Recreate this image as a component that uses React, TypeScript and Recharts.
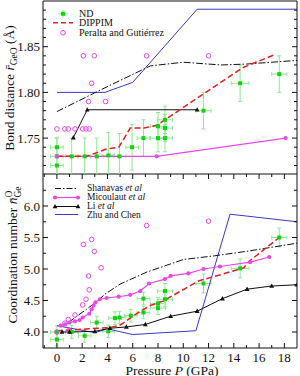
import React from "react";
import {
  ComposedChart,
  Line,
  Scatter,
  XAxis,
  YAxis,
  ErrorBar,
  ReferenceArea,
  Legend,
} from "recharts";

const FONT = "Liberation Serif, Times New Roman, serif";
const INK = "#111";
const GREEN = "#12d012";
const GREEN_ERR = "#8fea8f";
const RED = "#e02020";
const MAGENTA = "#e848e8";
const BLUE = "#3838c8";

// axis ranges / ticks
const P_MIN = -1.1;
const P_MAX = 19;
const R_MIN = 1.7107;
const R_MAX = 1.9;
const N_MIN = 3.746;
const N_MAX = 6.508;

const P_TICKS = [-1, 0, 1, 2, 3, 4, 5, 6, 7, 8, 9, 10, 11, 12, 13, 14, 15, 16, 17, 18];
const P_LABELS = [0, 2, 4, 6, 8, 10, 12, 14, 16, 18];
const R_TICKS = [1.72, 1.73, 1.74, 1.75, 1.76, 1.77, 1.78, 1.79, 1.8, 1.81, 1.82, 1.83, 1.84, 1.85, 1.86, 1.87, 1.88, 1.89];
const R_LABELS = [1.75, 1.8, 1.85];
const N_TICKS = [4, 4.25, 4.5, 4.75, 5, 5.25, 5.5, 5.75, 6, 6.25];
const N_LABELS = [4, 4.5, 5, 5.5, 6];

// ---- top panel: bond distance ----
const ndTopP = [0, 0, 0, 1.17, 2.2, 3.15, 4.07, 4.95, 5.95, 6.85, 8.0, 8.0, 8.55, 8.55, 8.55, 11.6, 14.5, 17.6];
const ndTopR = [1.74, 1.73, 1.72, 1.73, 1.73, 1.73, 1.731, 1.73, 1.74, 1.75, 1.763, 1.75, 1.77, 1.761, 1.75, 1.78, 1.81, 1.82];
const ndTopEP = [0.5, 0.5, 0.5, 0.5, 0.5, 0.5, 0.5, 0.5, 0.5, 0.5, 0.6, 0.6, 0.6, 0.6, 0.6, 0.6, 0.7, 0.6];
const ndTopER = [0.01, 0.02, 0.01, 0.02, 0.02, 0.02, 0.025, 0.025, 0.025, 0.02, 0.015, 0.015, 0.015, 0.015, 0.015, 0.02, 0.02, 0.02];

const peraltaTopP = [0, 0.63, 0.9, 1.43, 2.04, 2.3, 2.56, 2.5, 3.85, 2.75, 2.09, 2.96, 7.1, 12.0];
const peraltaTopR = [1.76, 1.76, 1.76, 1.76, 1.76, 1.76, 1.76, 1.79, 1.79, 1.81, 1.84, 1.84, 1.84, 1.84];

const dippimTopP = [0, 2.3, 3.15, 3.9, 4.9, 5.8, 6.9, 7.9, 14.7, 17.2];
const dippimTopR = [1.73, 1.73, 1.734, 1.738, 1.74, 1.761, 1.761, 1.764, 1.827, 1.841];

const shanavasTopP = [0, 3.5, 7.4, 10, 13, 15, 19];
const shanavasTopR = [1.779, 1.803, 1.829, 1.833, 1.83, 1.831, 1.835];

const micoulautTopP = [0, 7.9, 18.1];
const micoulautTopR = [1.73, 1.73, 1.75];

const liTopP = [1.3, 2.4, 11.1];
const liTopR = [1.7505, 1.781, 1.781];

const zhuTopP = [0, 3.8, 6, 11.1, 19];
const zhuTopR = [1.8, 1.8, 1.811, 1.891, 1.891];

// ---- bottom panel: coordination number ----
const ndBotP = [0, 0, 1.17, 2.2, 3.15, 4.07, 4.6, 4.95, 5.85, 6.85, 6.85, 8.0, 8.0, 8.55, 8.55, 11.6, 14.5, 17.6];
const ndBotN = [4.0, 3.88, 4.0, 3.94, 4.15, 4.01, 4.22, 4.23, 4.26, 4.31, 4.53, 4.38, 4.45, 4.52, 4.65, 4.77, 5.01, 5.5];
const ndBotEP = [0.5, 0.5, 0.5, 0.5, 0.5, 0.5, 0.5, 0.5, 0.5, 0.5, 0.5, 0.6, 0.6, 0.6, 0.6, 0.6, 0.7, 0.6];
const ndBotEN = [0.1, 0.1, 0.1, 0.1, 0.1, 0.1, 0.1, 0.1, 0.1, 0.1, 0.1, 0.1, 0.1, 0.12, 0.12, 0.15, 0.15, 0.15];

const peraltaBotP = [0, 0.63, 0.9, 0.95, 1.43, 2.04, 2.3, 2.56, 2.5, 3.5, 2.09, 2.75, 2.96, 7.1, 12.0];
const peraltaBotN = [4.0, 4.14, 4.2, 4.02, 4.27, 4.43, 4.52, 4.67, 4.89, 5.02, 5.39, 5.47, 5.28, 5.69, 5.76];

const dippimBotP = [0, 2.5, 4.2, 5.0, 5.8, 6.6, 7.4, 8.4, 9.8, 11.2, 12.8, 14.8, 15.2, 17.6];
const dippimBotN = [4.02, 4.05, 4.07, 4.11, 4.22, 4.33, 4.42, 4.49, 4.65, 4.81, 4.9, 5.02, 5.12, 5.5];

const shanavasBotP = [0.9, 3.15, 3.8, 5, 7.1, 10, 12.5, 15, 19];
const shanavasBotN = [4.15, 4.48, 4.6, 4.76, 4.95, 5.15, 5.21, 5.28, 5.41];

const micoulautBotP = [0.3, 0.65, 1.0, 1.43, 1.8, 2.04, 2.56, 2.75, 2.9, 3.05, 3.4, 3.94, 4.9, 5.8, 6.6, 7.3, 8.55, 9.0, 10.4, 11.6, 12.9, 15.3, 16.8];
const micoulautBotN = [4.1, 4.12, 4.15, 4.17, 4.19, 4.23, 4.29, 4.36, 4.42, 4.47, 4.52, 4.54, 4.56, 4.59, 4.65, 4.77, 4.84, 4.89, 4.93, 5.0, 5.04, 5.11, 5.19];

const liBotP = [0.4, 1.0, 3.0, 4.2, 5.5, 7.0, 9.0, 11.1, 13.1, 15.05, 17.0, 19.0];
const liBotN = [4.0, 4.0, 4.01, 4.06, 4.08, 4.12, 4.25, 4.33, 4.53, 4.68, 4.73, 4.75];

const zhuBotP = [0, 3.0, 4.0, 6.0, 11.0, 13.7, 19];
const zhuBotN = [4.1, 3.99, 4.05, 3.96, 4.02, 5.87, 5.75];

const TOP_LEGEND = ["ND", "DIPPIM", "Peralta and Gutiérrez"];
const BOTTOM_LEGEND = [
  ["Shanavas", "et al"],
  ["Micoulaut", "et al"],
  ["Li", "et al"],
  ["Zhu and Chen", ""],
];

const pts = (P: number[], V: number[], eP?: number[], eV?: number[]) =>
  P.map((p, i) => ({ p, v: V[i], ep: eP ? eP[i] : 0, ev: eV ? eV[i] : 0 }));

// layout
const W = 300;
const Y_AXIS_W = 43;
const PLOT_R = 297;
const TOP_H = 174;
const BOT_H = 202;

const has = (arr: number[], v: number) => arr.some((a) => Math.abs(a - v) < 1e-6);

const makeXTick = (plotTop: number, showLabels: boolean) => (props: any) => {
  const { x, y, payload } = props;
  const v = payload.value;
  const major = has(P_LABELS, v);
  const len = major ? 5 : 3;
  return (
    <g key={`xt-${v}`}>
      <line x1={x} x2={x} y1={y} y2={y - len} stroke={INK} />
      <line x1={x} x2={x} y1={plotTop} y2={plotTop + len} stroke={INK} />
      {showLabels && major && (
        <text x={x} y={y + 13.5} textAnchor="middle" fontSize={13} fontFamily={FONT} fill={INK}>
          {v}
        </text>
      )}
    </g>
  );
};

const makeYTick = (labels: number[], digits: number) => (props: any) => {
  const { x, y, payload } = props;
  const v = payload.value;
  const major = has(labels, v);
  const len = major ? 5 : 3;
  return (
    <g key={`yt-${v}`}>
      <line x1={x} x2={x + len} y1={y} y2={y} stroke={INK} />
      <line x1={PLOT_R} x2={PLOT_R - len} y1={y} y2={y} stroke={INK} />
      {major && (
        <text x={x - 3} y={y + 4.5} textAnchor="end" fontSize={13} fontFamily={FONT} fill={INK}>
          {v.toFixed(digits)}
        </text>
      )}
    </g>
  );
};

const Square = (props: any) => {
  const { cx, cy } = props;
  if (cx == null || cy == null) return <g />;
  return <rect x={cx - 2} y={cy - 2} width={4} height={4} fill={GREEN} />;
};

const OpenCircle = (props: any) => {
  const { cx, cy } = props;
  if (cx == null || cy == null) return <g />;
  return <circle cx={cx} cy={cy} r={2.3} fill="none" stroke={MAGENTA} strokeWidth={1} />;
};

const magentaDot = (props: any) => (
  <circle key={`md-${props.index}`} cx={props.cx} cy={props.cy} r={2.1} fill={MAGENTA} />
);

const triangleDot = (props: any) => {
  const { cx, cy, index } = props;
  return (
    <path
      key={`tr-${index}`}
      d={`M${cx},${cy - 2.6}L${cx + 2.4},${cy + 1.8}L${cx - 2.4},${cy + 1.8}Z`}
      fill={INK}
    />
  );
};

const TopYTitle = () => (
  <text transform="rotate(-90)" x={-88} y={13.5} textAnchor="middle" fontSize={13.5} fontFamily={FONT} fill={INK}>
    Bond distance <tspan fontStyle="italic">{"r\u0304"}</tspan>
    <tspan fontSize={9.5} dy={3}>GeO</tspan>
    <tspan dy={-3}> (Å)</tspan>
  </text>
);

const BottomYTitle = () => (
  <text transform="rotate(-90)" x={-81} y={17} textAnchor="middle" fontSize={13.5} fontFamily={FONT} fill={INK}>
    Coordination number <tspan fontStyle="italic">{"n\u0304"}</tspan>
    <tspan fontSize={9.5} dy={3.5}>Ge</tspan>
    <tspan fontSize={9.5} dx={-11} dy={-9}>O</tspan>
  </text>
);

const XTitle = () => (
  <text x={172} y={200.5} textAnchor="middle" fontSize={13.5} fontFamily={FONT} fill={INK}>
    Pressure <tspan fontStyle="italic">P</tspan> (GPa)
  </text>
);

const legendText: React.CSSProperties = {
  fontFamily: FONT,
  color: INK,
  whiteSpace: "nowrap",
};

const TopLegend = () => {
  const samples = [
    <g>
      <line x1={5} x2={15} y1={4.75} y2={4.75} stroke={GREEN_ERR} />
      <line x1={10} x2={10} y1={1} y2={8.5} stroke={GREEN_ERR} />
      <rect x={8} y={2.75} width={4} height={4} fill={GREEN} />
    </g>,
    <line x1={0} x2={20} y1={4.75} y2={4.75} stroke={RED} strokeWidth={1.5} strokeDasharray="5 3" />,
    <circle cx={10} cy={4.75} r={2.3} fill="none" stroke={MAGENTA} />,
  ];
  return (
    <div>
      {TOP_LEGEND.map((name, i) => (
        <div key={name} style={{ display: "flex", alignItems: "center", height: 9.5 }}>
          <svg width={20} height={9.5} style={{ overflow: "visible" }}>
            {samples[i]}
          </svg>
          <span style={{ ...legendText, fontSize: 10, marginLeft: 6 }}>{name}</span>
        </div>
      ))}
    </div>
  );
};

const BottomLegend = () => {
  const samples = [
    <line x1={0} x2={23} y1={4.5} y2={4.5} stroke={INK} strokeDasharray="6 2 1.5 2" />,
    <g>
      <line x1={0} x2={23} y1={4.5} y2={4.5} stroke={MAGENTA} strokeWidth={1.2} />
      <circle cx={0} cy={4.5} r={2.1} fill={MAGENTA} />
      <circle cx={23} cy={4.5} r={2.1} fill={MAGENTA} />
    </g>,
    <g>
      <line x1={0} x2={23} y1={4.5} y2={4.5} stroke={INK} />
      <path d="M0,1.9L2.4,6.3L-2.4,6.3Z" fill={INK} />
      <path d="M23,1.9L25.4,6.3L20.6,6.3Z" fill={INK} />
    </g>,
    <line x1={0} x2={23} y1={4.5} y2={4.5} stroke={BLUE} />,
  ];
  return (
    <div>
      {BOTTOM_LEGEND.map(([name, suffix], i) => (
        <div key={name} style={{ display: "flex", alignItems: "center", height: 8.9 }}>
          <svg width={23} height={9} style={{ overflow: "visible" }}>
            {samples[i]}
          </svg>
          <span style={{ ...legendText, fontSize: 9.5, marginLeft: 9 }}>
            {name}
            {suffix && <i> {suffix}</i>}
          </span>
        </div>
      ))}
    </div>
  );
};

export default function App() {
  const ndTop = pts(ndTopP, ndTopR, ndTopEP, ndTopER);
  const ndBot = pts(ndBotP, ndBotN, ndBotEP, ndBotEN);

  return (
    <div style={{ position: "absolute", left: 0, top: 0, width: W, height: 376, background: "#fff", fontFamily: FONT }}>
      <ComposedChart width={W} height={TOP_H} margin={{ top: 1, right: W - PLOT_R, bottom: 0, left: 0 }}>
        <XAxis
          type="number"
          dataKey="p"
          domain={[P_MIN, P_MAX]}
          allowDataOverflow
          ticks={P_TICKS}
          interval={0}
          height={0}
          tickSize={0}
          tickMargin={0}
          axisLine={false}
          tickLine={false}
          tick={makeXTick(1, false)}
        />
        <YAxis
          type="number"
          dataKey="v"
          domain={[R_MIN, R_MAX]}
          allowDataOverflow
          ticks={R_TICKS}
          interval={0}
          width={Y_AXIS_W}
          tickSize={0}
          tickMargin={0}
          axisLine={false}
          tickLine={false}
          tick={makeYTick(R_LABELS, 2)}
          label={{ content: TopYTitle }}
        />
        <ReferenceArea x1={P_MIN} x2={P_MAX} y1={R_MIN} y2={R_MAX} fill="none" stroke={INK} strokeWidth={1} />
        <Legend
          layout="horizontal"
          verticalAlign="middle"
          align="center"
          wrapperStyle={{ left: 53, top: 8.5, width: 200 }}
          content={TopLegend}
        />
        <Scatter data={ndTop} dataKey="v" shape={Square} isAnimationActive={false}>
          <ErrorBar dataKey="ev" direction="y" width={2} stroke={GREEN_ERR} strokeWidth={1} />
          <ErrorBar dataKey="ep" direction="x" width={2} stroke={GREEN_ERR} strokeWidth={1} />
        </Scatter>
        <Line data={pts(micoulautTopP, micoulautTopR)} dataKey="v" stroke={MAGENTA} strokeWidth={1.2} dot={magentaDot} isAnimationActive={false} />
        <Line data={pts(zhuTopP, zhuTopR)} dataKey="v" stroke={BLUE} strokeWidth={1} dot={false} isAnimationActive={false} />
        <Line data={pts(liTopP, liTopR)} dataKey="v" stroke={INK} strokeWidth={1} dot={triangleDot} isAnimationActive={false} />
        <Line data={pts(shanavasTopP, shanavasTopR)} dataKey="v" stroke={INK} strokeWidth={1} strokeDasharray="7 2 1.5 2" dot={false} isAnimationActive={false} />
        <Line data={pts(dippimTopP, dippimTopR)} dataKey="v" stroke={RED} strokeWidth={1.5} strokeDasharray="6 3" dot={false} isAnimationActive={false} />
        <Scatter data={pts(peraltaTopP, peraltaTopR)} dataKey="v" shape={OpenCircle} isAnimationActive={false} />
      </ComposedChart>

      <ComposedChart width={W} height={BOT_H} margin={{ top: 0, right: W - PLOT_R, bottom: 0, left: 0 }}>
        <XAxis
          type="number"
          dataKey="p"
          domain={[P_MIN, P_MAX]}
          allowDataOverflow
          ticks={P_TICKS}
          interval={0}
          height={BOT_H - TOP_H}
          tickSize={0}
          tickMargin={0}
          axisLine={false}
          tickLine={false}
          tick={makeXTick(0, true)}
          label={{ content: XTitle }}
        />
        <YAxis
          type="number"
          dataKey="v"
          domain={[N_MIN, N_MAX]}
          allowDataOverflow
          ticks={N_TICKS}
          interval={0}
          width={Y_AXIS_W}
          tickSize={0}
          tickMargin={0}
          axisLine={false}
          tickLine={false}
          tick={makeYTick(N_LABELS, 1)}
          label={{ content: BottomYTitle }}
        />
        <ReferenceArea x1={P_MIN} x2={P_MAX} y1={N_MIN} y2={N_MAX} fill="none" stroke={INK} strokeWidth={1} />
        <Legend
          layout="horizontal"
          verticalAlign="middle"
          align="center"
          wrapperStyle={{ left: 55, top: 9.8, width: 200 }}
          content={BottomLegend}
        />
        <Scatter data={ndBot} dataKey="v" shape={Square} isAnimationActive={false}>
          <ErrorBar dataKey="ev" direction="y" width={2} stroke={GREEN_ERR} strokeWidth={1} />
          <ErrorBar dataKey="ep" direction="x" width={2} stroke={GREEN_ERR} strokeWidth={1} />
        </Scatter>
        <Line data={pts(zhuBotP, zhuBotN)} dataKey="v" stroke={BLUE} strokeWidth={1} dot={false} isAnimationActive={false} />
        <Line data={pts(liBotP, liBotN)} dataKey="v" stroke={INK} strokeWidth={1} dot={triangleDot} isAnimationActive={false} />
        <Line data={pts(shanavasBotP, shanavasBotN)} dataKey="v" stroke={INK} strokeWidth={1} strokeDasharray="7 2 1.5 2" dot={false} isAnimationActive={false} />
        <Line data={pts(dippimBotP, dippimBotN)} dataKey="v" stroke={RED} strokeWidth={1.5} strokeDasharray="6 3" dot={false} isAnimationActive={false} />
        <Line data={pts(micoulautBotP, micoulautBotN)} dataKey="v" stroke={MAGENTA} strokeWidth={1.2} dot={magentaDot} isAnimationActive={false} />
        <Scatter data={pts(peraltaBotP, peraltaBotN)} dataKey="v" shape={OpenCircle} isAnimationActive={false} />
      </ComposedChart>
    </div>
  );
}
